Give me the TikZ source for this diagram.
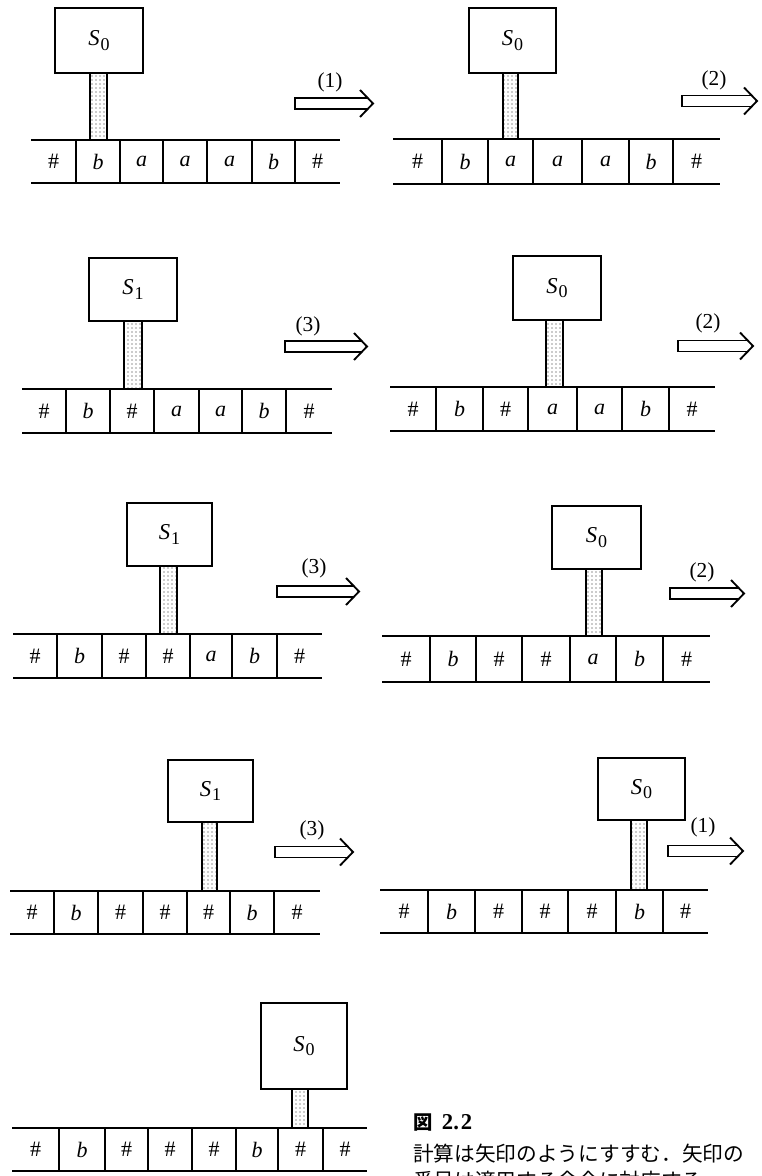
\documentclass[tikz,border=0pt]{standalone}
\usepackage{fontspec}
\setmainfont{Liberation Serif}
\newfontfamily\jp{Noto Sans CJK JP}
\usetikzlibrary{patterns}
\tikzset{
  tapeline/.style={line width=2pt},
  divider/.style={line width=1.2pt},
  headbox/.style={draw, line width=1.5pt, inner sep=0pt, outer sep=0pt, font=\fontsize{17}{20}\selectfont},
  stemrect/.style={draw, line width=1.2pt, pattern=dots, pattern color=black!85},
  celltext/.style={font=\fontsize{16.5}{19}\selectfont, inner sep=0pt},
  arrline/.style={line width=1.4pt, line join=miter},
  steplabel/.style={font=\fontsize{16}{19}\selectfont, inner sep=0pt},
  captext/.style={anchor=west, inner sep=0pt, font=\fontsize{15.5}{18}\selectfont},
}
\newcommand\hs{\#}
\newcommand\ib{\textit{b}}
\newcommand\ia{\textit{a}}
\newcommand\sz{\textit{S}\kern0.6pt\raisebox{-0.45ex}{\fontsize{13.5}{15}\selectfont 0}}
\newcommand\so{\textit{S}\kern0.6pt\raisebox{-0.45ex}{\fontsize{13.5}{15}\selectfont 1}}
% tape: prefix, xl, xr, yt, yb, cells
\newcommand\tapeat[6]{%
  \draw[tapeline] (#2,#4) -- (#3,#4) (#2,#5) -- (#3,#5);
  \foreach \xa/\xb/\lab [count=\i] in {#6}{
    \node[celltext] (#1\i) at ({(\xa+\xb)/2},{(#4+#5)/2}) {\lab};
    \ifnum\i>1 \draw[divider] (\xa,#4) -- (\xa,#5);\fi
  }}
% head box: name, x1, x2, y1, y2, label
\newcommand\headat[6]{%
  \node[headbox, minimum width={(#3-#2)*0.75pt}, minimum height={(#5-#4)*0.75pt}] (#1) at ({(#2+#3)/2},{(#4+#5)/2}) {#6};}
% open arrow: x0, xtip, ymid
\newcommand\oarrow[3]{%
  \draw[arrline] ({#2-5.3},{#3-5.5}) -- (#1,{#3-5.5}) -- (#1,{#3+5.5}) -- ({#2-5.3},{#3+5.5});
  \draw[arrline] ({#2-13},{#3-13.5}) -- (#2,#3) -- ({#2-13},{#3+13.5});}
\begin{document}
\begin{tikzpicture}[x=0.75pt,y=-0.75pt]
\useasboundingbox[fill=white] (0,0) rectangle (761,1176);

% ---- panel 1
\headat{ha}{55}{143}{8}{73}{\sz}
\draw[stemrect] (90,73) rectangle (107,140);
\tapeat{pa}{31}{340}{140}{183}{31/76/\hs,76/120/\ib,120/163/\ia,163/207/\ia,207/252/\ia,252/295/\ib,295/340/\hs}
\oarrow{295}{373}{103.5}
\node[steplabel] (la) at (330,82) {(1)};

% ---- panel 2
\headat{hb}{469}{556}{8}{73}{\sz}
\draw[stemrect] (503,73) rectangle (518,139);
\tapeat{pb}{393}{720}{139}{184}{393/442/\hs,442/488/\ib,488/533/\ia,533/582/\ia,582/629/\ia,629/673/\ib,673/720/\hs}
\oarrow{682}{757}{101}
\node[steplabel] (lb) at (714,80) {(2)};

% ---- panel 3
\headat{hc}{89}{177}{258}{321}{\so}
\draw[stemrect] (124,321) rectangle (142,389);
\tapeat{pc}{22}{332}{389}{433}{22/66/\hs,66/110/\ib,110/154/\hs,154/199/\ia,199/242/\ia,242/286/\ib,286/332/\hs}
\oarrow{285}{367}{346.5}
\node[steplabel] (lc) at (308,326) {(3)};

% ---- panel 4
\headat{hd}{513}{601}{256}{320}{\sz}
\draw[stemrect] (546,320) rectangle (563,387);
\tapeat{pd}{390}{715}{387}{431}{390/436/\hs,436/483/\ib,483/528/\hs,528/577/\ia,577/622/\ia,622/669/\ib,669/715/\hs}
\oarrow{678}{753}{346}
\node[steplabel] (ld) at (708,323) {(2)};

% ---- panel 5
\headat{he}{127}{212}{503}{566}{\so}
\draw[stemrect] (160,566) rectangle (177,634);
\tapeat{pe}{13}{322}{634}{678}{13/57/\hs,57/102/\ib,102/146/\hs,146/190/\hs,190/232/\ia,232/277/\ib,277/322/\hs}
\oarrow{277}{359}{591.5}
\node[steplabel] (le) at (314,568) {(3)};

% ---- panel 6
\headat{hf}{552}{641}{506}{569}{\sz}
\draw[stemrect] (586,569) rectangle (602,636);
\tapeat{pf}{382}{710}{636}{682}{382/430/\hs,430/476/\ib,476/522/\hs,522/570/\hs,570/616/\ia,616/663/\ib,663/710/\hs}
\oarrow{670}{744}{593.5}
\node[steplabel] (lf) at (702,572) {(2)};

% ---- panel 7
\headat{hg}{168}{253}{760}{822}{\so}
\draw[stemrect] (202,822) rectangle (217,891);
\tapeat{pg}{10}{320}{891}{934}{10/54/\hs,54/98/\ib,98/143/\hs,143/187/\hs,187/230/\hs,230/274/\ib,274/320/\hs}
\oarrow{275}{353}{852}
\node[steplabel] (lg) at (312,830) {(3)};

% ---- panel 8
\headat{hh}{598}{685}{758}{820}{\sz}
\draw[stemrect] (631,820) rectangle (647,890);
\tapeat{ph}{380}{708}{890}{933}{380/428/\hs,428/475/\ib,475/522/\hs,522/568/\hs,568/616/\hs,616/663/\ib,663/708/\hs}
\oarrow{668}{743}{851}
\node[steplabel] (lh) at (703,827) {(1)};

% ---- panel 9
\headat{hi}{261}{347}{1003}{1089}{\sz}
\draw[stemrect] (292,1089) rectangle (308,1128);
\tapeat{pi}{12}{367}{1128}{1171}{12/59/\hs,59/105/\ib,105/148/\hs,148/192/\hs,192/236/\hs,236/278/\ib,278/323/\hs,323/367/\hs}

% ---- caption
\node[captext] (cap1) at (413,1123) {{\jp\bfseries\fontsize{14.5}{16}\selectfont 図}\hspace{7pt}{\fontsize{17}{18}\selectfont\bfseries 2.\kern1.5pt 2}};
\node[captext] (cap2) at (413,1154) {\jp 計算は矢印のようにすすむ．矢印の};
\begin{scope}
\clip (0,0) rectangle (761,1176);
\node[captext] (cap3) at (413,1181) {\jp 番号は適用する命令に対応する．};
\end{scope}
\end{tikzpicture}
\end{document}
